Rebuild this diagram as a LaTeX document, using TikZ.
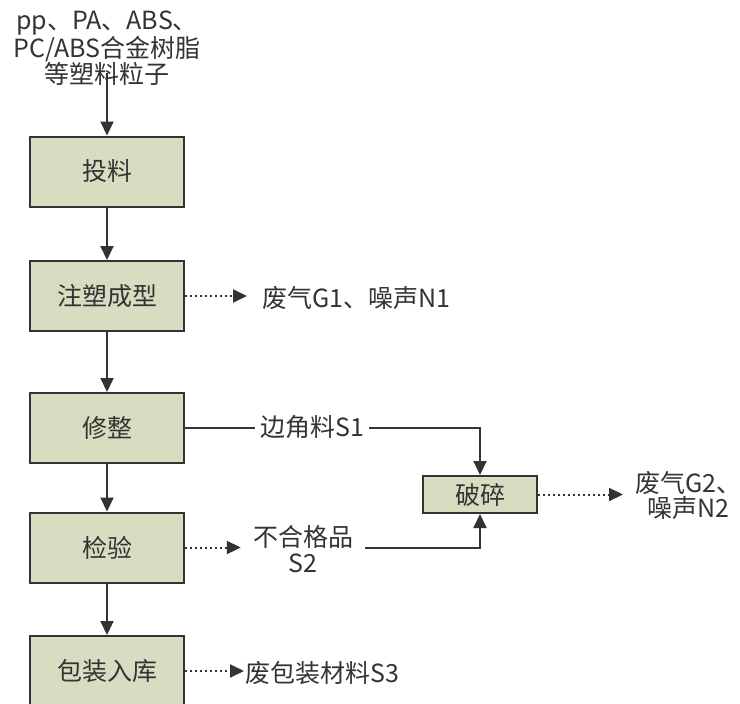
\documentclass[tikz,border=0pt]{standalone}
\usepackage{fontspec}
\newfontfamily\cjk{Noto Sans CJK SC}
\usetikzlibrary{arrows.meta}
\definecolor{boxfill}{HTML}{D6DDC0}
\definecolor{ink}{HTML}{333333}
\tikzset{
  every node/.style={font=\cjk\fontsize{25}{25.5}\selectfont, text=ink},
  stepbox/.style={draw=ink, line width=2pt, fill=boxfill, minimum width=154pt, minimum height=70pt, inner sep=0pt},
  smallbox/.style={draw=ink, line width=2pt, fill=boxfill, minimum width=114pt, minimum height=37pt, inner sep=0pt},
  flow/.style={draw=ink, line width=2pt, -{Triangle[length=14pt,width=13pt]}},
  dotflow/.style={draw=ink, line width=2pt, dash pattern=on 2pt off 3pt, -{Triangle[length=14pt,width=13pt]}},
  lbl/.style={inner sep=0pt}
}
\begin{document}
\begin{tikzpicture}[x=1pt,y=-1pt]
\useasboundingbox (0,0) rectangle (740,704);
% source text
\node[lbl, align=center] (src) at (107,48) {pp、PA、ABS、\\PC/ABS合金树脂\\等塑料粒子};
% main boxes
\node[stepbox] (b1) at (107,171.5) {投料};
\node[stepbox] (b2) at (107,296) {注塑成型};
\node[stepbox] (b3) at (107,428) {修整};
\node[stepbox] (b4) at (107,547.5) {检验};
\node[stepbox] (b5) at (107,671) {包装入库};
\node[smallbox] (cr) at (480,494.5) {破碎};
% side texts
\node[lbl, anchor=west, inner xsep=15pt] (g1) at (247,298) {废气G1、噪声N1};
\node[lbl, align=center, inner xsep=12pt] (s2) at (303,549) {不合格品\\S2};
\node[lbl, align=center, anchor=west, inner xsep=12pt] (g2) at (623,495.5) {废气G2、\\噪声N2};
\node[lbl, anchor=west, inner xsep=1pt] (s3) at (244,673) {废包装材料S3};
% main flow
\draw[flow] (src.south) ++(0,-13) -- (b1.north);
\draw[flow] (b1.south) -- (b2.north);
\draw[flow] (b2.south) -- (b3.north);
\draw[flow] (b3.south) -- (b4.north);
\draw[flow] (b4.south) -- (b5.north);
% side flows
\draw[dotflow] (b2.east) -- (b2.east -| g1.west);
\draw[flow] (b3.east) -| (cr.north);
\node[lbl, fill=white, inner xsep=5pt, inner ysep=2pt] (s1) at (312,427) {边角料S1};
\draw[dotflow] (b4.east) -- (b4.east -| s2.west);
\draw[flow] (s2.east |- b4.east) -| (cr.south);
\draw[dotflow] (cr.east) -- (cr.east -| g2.west);
\draw[dotflow] (b5.east) -- (b5.east -| s3.west);
\end{tikzpicture}
\end{document}
